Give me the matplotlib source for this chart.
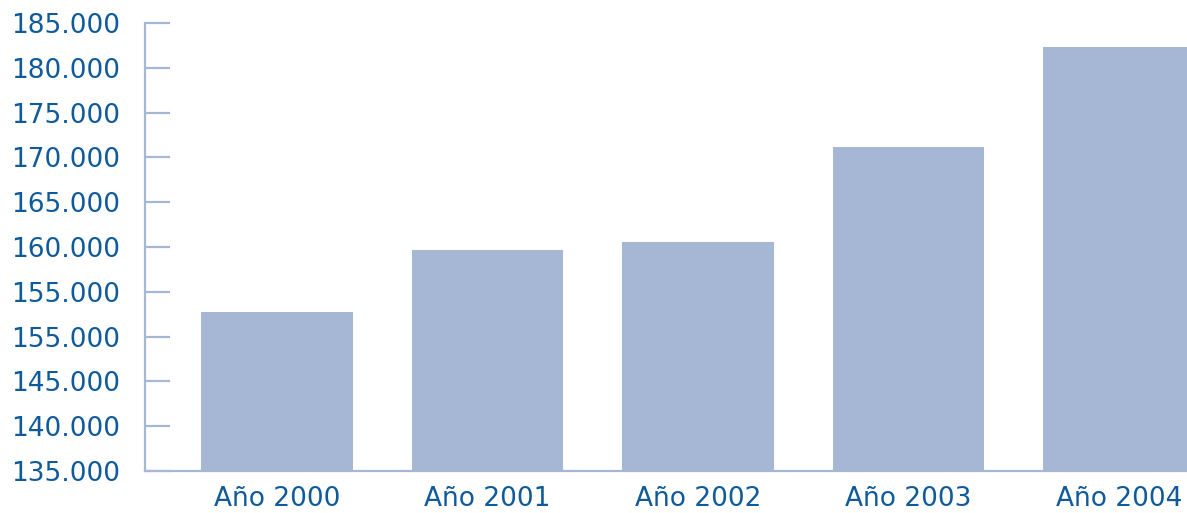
import matplotlib
matplotlib.use('Agg')
import matplotlib.pyplot as plt
import numpy as np

# Datos
anios = ['Año 2000', 'Año 2001', 'Año 2002', 'Año 2003', 'Año 2004']
valores = [152750, 159650, 160550, 171150, 182300]
ticks_y = [135000, 140000, 145000, 150000, 155000, 160000, 165000, 170000, 175000, 180000, 185000]
# el original repite "155.000"
etiquetas_y = ['135.000', '140.000', '145.000', '155.000', '155.000', '160.000',
               '165.000', '170.000', '175.000', '180.000', '185.000']

color_barra = '#a6b7d6'
color_texto = '#0f5a9a'

fig = plt.figure(figsize=(11.87, 5.13), dpi=100)
ax = fig.add_axes([145/1187, 42/513, 1 - 145/1187, 448/513])

x = np.arange(len(anios))
ax.bar(x, valores, width=0.72, color=color_barra, zorder=2)

ax.set_ylim(135000, 185000)
ax.set_xlim(-0.627, 4.323)
ax.set_yticks(ticks_y)
ax.set_yticklabels(etiquetas_y)
ax.set_xticks(x)
ax.set_xticklabels(anios)

for s in ['top', 'right']:
    ax.spines[s].set_visible(False)
for s in ['left', 'bottom']:
    ax.spines[s].set_color(color_barra)
    ax.spines[s].set_linewidth(1.6)

ax.tick_params(axis='y', direction='in', length=18, width=1.6, color=color_barra,
               pad=18, labelsize=19, labelcolor=color_texto)
ax.tick_params(axis='x', length=0, pad=11, labelsize=19, labelcolor=color_texto)

fig.savefig('out.png', dpi=100)
